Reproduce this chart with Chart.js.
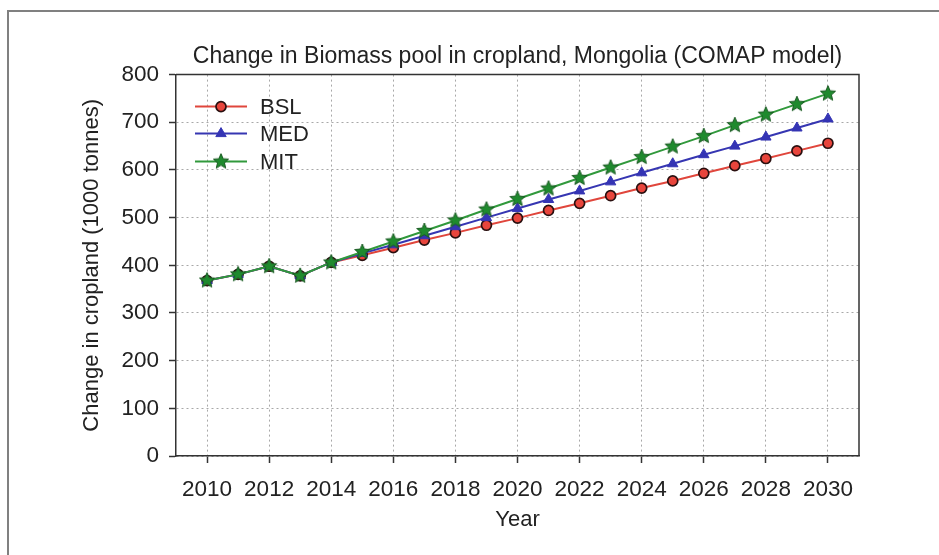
<!DOCTYPE html>
<html>
<head>
<meta charset="utf-8">
<script src="https://cdn.jsdelivr.net/npm/chart.js@4/dist/chart.umd.min.js"></script>
<style>
  html, body { margin: 0; padding: 0; background: #fff; }
  #wrap { position: relative; width: 939px; height: 555px; overflow: hidden; }
  #frame {
    position: absolute; left: 7px; top: 10px; width: 940px; height: 560px;
    border-left: 2px solid #808080; border-top: 2px solid #808080;
  }
  #chart { position: absolute; left: 0; top: 0; }
</style>
</head>
<body>
<div id="wrap">
  <div id="frame"></div>
  <canvas id="chart" width="939" height="555"></canvas>
</div>
<script>
// values (1000 tonnes)
const years = [2010, 2011, 2012, 2013, 2014, 2015, 2016, 2017, 2018, 2019, 2020,
  2021, 2022, 2023, 2024, 2025, 2026, 2027, 2028, 2029, 2030]
const bsl = [368, 381, 398, 378, 406, 421, 437, 453, 468, 484, 499,
  515, 530, 546, 562, 577, 593, 609, 624, 640, 656]
const med = [368, 381, 398, 378, 406, 425, 443, 462, 481, 500, 519,
  538, 556, 575, 594, 613, 632, 650, 669, 688, 707]
const mit = [368, 381, 398, 378, 406, 428, 450, 472, 494, 517, 539,
  561, 583, 605, 627, 649, 671, 694, 716, 738, 760]
const xTicks = [2010, 2012, 2014, 2016, 2018, 2020, 2022, 2024, 2026, 2028, 2030]

const FONT = 'Liberation Sans, Arial, sans-serif'
const TEXT = '#222'

// filled five point star marker (Chart.js 'star' is only strokes)
function makeStar(r, fill, stroke) {
  const c = document.createElement('canvas')
  const s = Math.ceil(r * 2 + 4)
  c.width = s
  c.height = s
  const g = c.getContext('2d')
  g.beginPath()
  for (let i = 0; i < 10; i++) {
    const a = -Math.PI / 2 + i * Math.PI / 5
    const rr = i % 2 ? r * 0.45 : r
    g.lineTo(s / 2 + rr * Math.cos(a), s / 2 + rr * Math.sin(a))
  }
  g.closePath()
  g.fillStyle = fill
  g.fill()
  g.strokeStyle = stroke
  g.lineWidth = 1
  g.stroke()
  return c
}
const star = makeStar(8, '#1f8a2e', '#1a5a22')

const pts = arr => years.map((y, i) => ({ x: y, y: arr[i] }))

const datasets = [
  {
    label: 'BSL', data: pts(bsl), order: 3,
    borderColor: '#e0463c', borderWidth: 2,
    pointStyle: 'circle', pointRadius: 5,
    pointBackgroundColor: '#e8453c', pointBorderColor: '#2a1010', pointBorderWidth: 1.7
  },
  {
    label: 'MED', data: pts(med), order: 2,
    borderColor: '#3636b2', borderWidth: 2,
    pointStyle: 'triangle', pointRadius: 6,
    pointBackgroundColor: '#3434b4', pointBorderColor: '#3434b4', pointBorderWidth: 1
  },
  {
    label: 'MIT', data: pts(mit), order: 1,
    borderColor: '#31993c', borderWidth: 2,
    pointStyle: star, pointRadius: 8,
    pointBackgroundColor: '#1f8a2e', pointBorderColor: '#1a5a22', pointBorderWidth: 1
  }
]

// legend inside the plot, top left
const insideLegend = {
  id: 'insideLegend',
  afterDraw(chart) {
    const ctx = chart.ctx
    const a = chart.chartArea
    const x0 = a.left + 19, x1 = a.left + 71, xm = a.left + 45, xt = a.left + 84
    const rows = [a.top + 32, a.top + 59, a.top + 87]
    ctx.save()
    datasets.forEach((d, i) => {
      const y = rows[i]
      ctx.strokeStyle = d.borderColor
      ctx.lineWidth = d.borderWidth
      ctx.beginPath()
      ctx.moveTo(x0, y)
      ctx.lineTo(x1, y)
      ctx.stroke()
      ctx.fillStyle = d.pointBackgroundColor
      ctx.strokeStyle = d.pointBorderColor
      ctx.lineWidth = d.pointBorderWidth
      Chart.helpers.drawPoint(ctx, {
        pointStyle: d.pointStyle, radius: d.pointRadius, rotation: 0, borderWidth: d.pointBorderWidth
      }, xm, y)
      ctx.fillStyle = TEXT
      ctx.font = '22px ' + FONT
      ctx.textBaseline = 'middle'
      ctx.fillText(d.label, xt, y + 1)
    })
    ctx.restore()
  }
}

// closes the plot box on top and right
const plotBox = {
  id: 'plotBox',
  afterDatasetsDraw(chart) {
    const a = chart.chartArea
    const ctx = chart.ctx
    ctx.save()
    ctx.strokeStyle = '#333'
    ctx.lineWidth = 1.5
    ctx.beginPath()
    ctx.moveTo(a.left, a.top)
    ctx.lineTo(a.right, a.top)
    ctx.lineTo(a.right, a.bottom)
    ctx.stroke()
    ctx.restore()
  }
}

new Chart(document.getElementById('chart'), {
  type: 'line',
  data: { datasets: datasets },
  options: {
    responsive: false,
    animation: false,
    devicePixelRatio: 1,
    layout: { padding: { left: 79, right: 80, top: 0, bottom: 0 } },
    plugins: {
      legend: { display: false },
      tooltip: { enabled: false },
      title: {
        display: true,
        fullSize: false,
        text: 'Change in Biomass pool in cropland, Mongolia (COMAP model)',
        color: TEXT,
        font: { family: FONT, size: 23, weight: 'normal' },
        padding: { top: 43, bottom: 4 }
      }
    },
    scales: {
      x: {
        type: 'linear',
        min: 2009,
        max: 2031,
        afterFit: s => { s.height = 99 },
        afterBuildTicks: s => { s.ticks = xTicks.map(v => ({ value: v })) },
        ticks: {
          color: TEXT, padding: 13,
          font: { family: FONT, size: 22.5 },
          callback: v => String(v),
          maxRotation: 0
        },
        grid: {
          color: '#a8a8a8', lineWidth: 1,
          tickLength: 7, tickColor: '#333', tickWidth: 1.5
        },
        border: { color: '#333', width: 1.5, dash: [2, 3] },
        title: {
          display: true, text: 'Year', color: TEXT,
          font: { family: FONT, size: 22 },
          padding: { top: 0, bottom: 22 }
        }
      },
      y: {
        min: 0,
        max: 800,
        afterFit: s => { s.width = 97 },
        ticks: {
          stepSize: 100, color: TEXT, padding: 10,
          font: { family: FONT, size: 22.5 }
        },
        grid: {
          color: '#a8a8a8', lineWidth: 1,
          tickLength: 7, tickColor: '#333', tickWidth: 1.5
        },
        border: { color: '#333', width: 1.5, dash: [2, 3] },
        title: {
          display: true, text: 'Change in cropland (1000 tonnes)', color: TEXT,
          font: { family: FONT, size: 22 },
          padding: { top: 0, bottom: 0 }
        }
      }
    }
  },
  plugins: [insideLegend, plotBox]
})
</script>
</body>
</html>
